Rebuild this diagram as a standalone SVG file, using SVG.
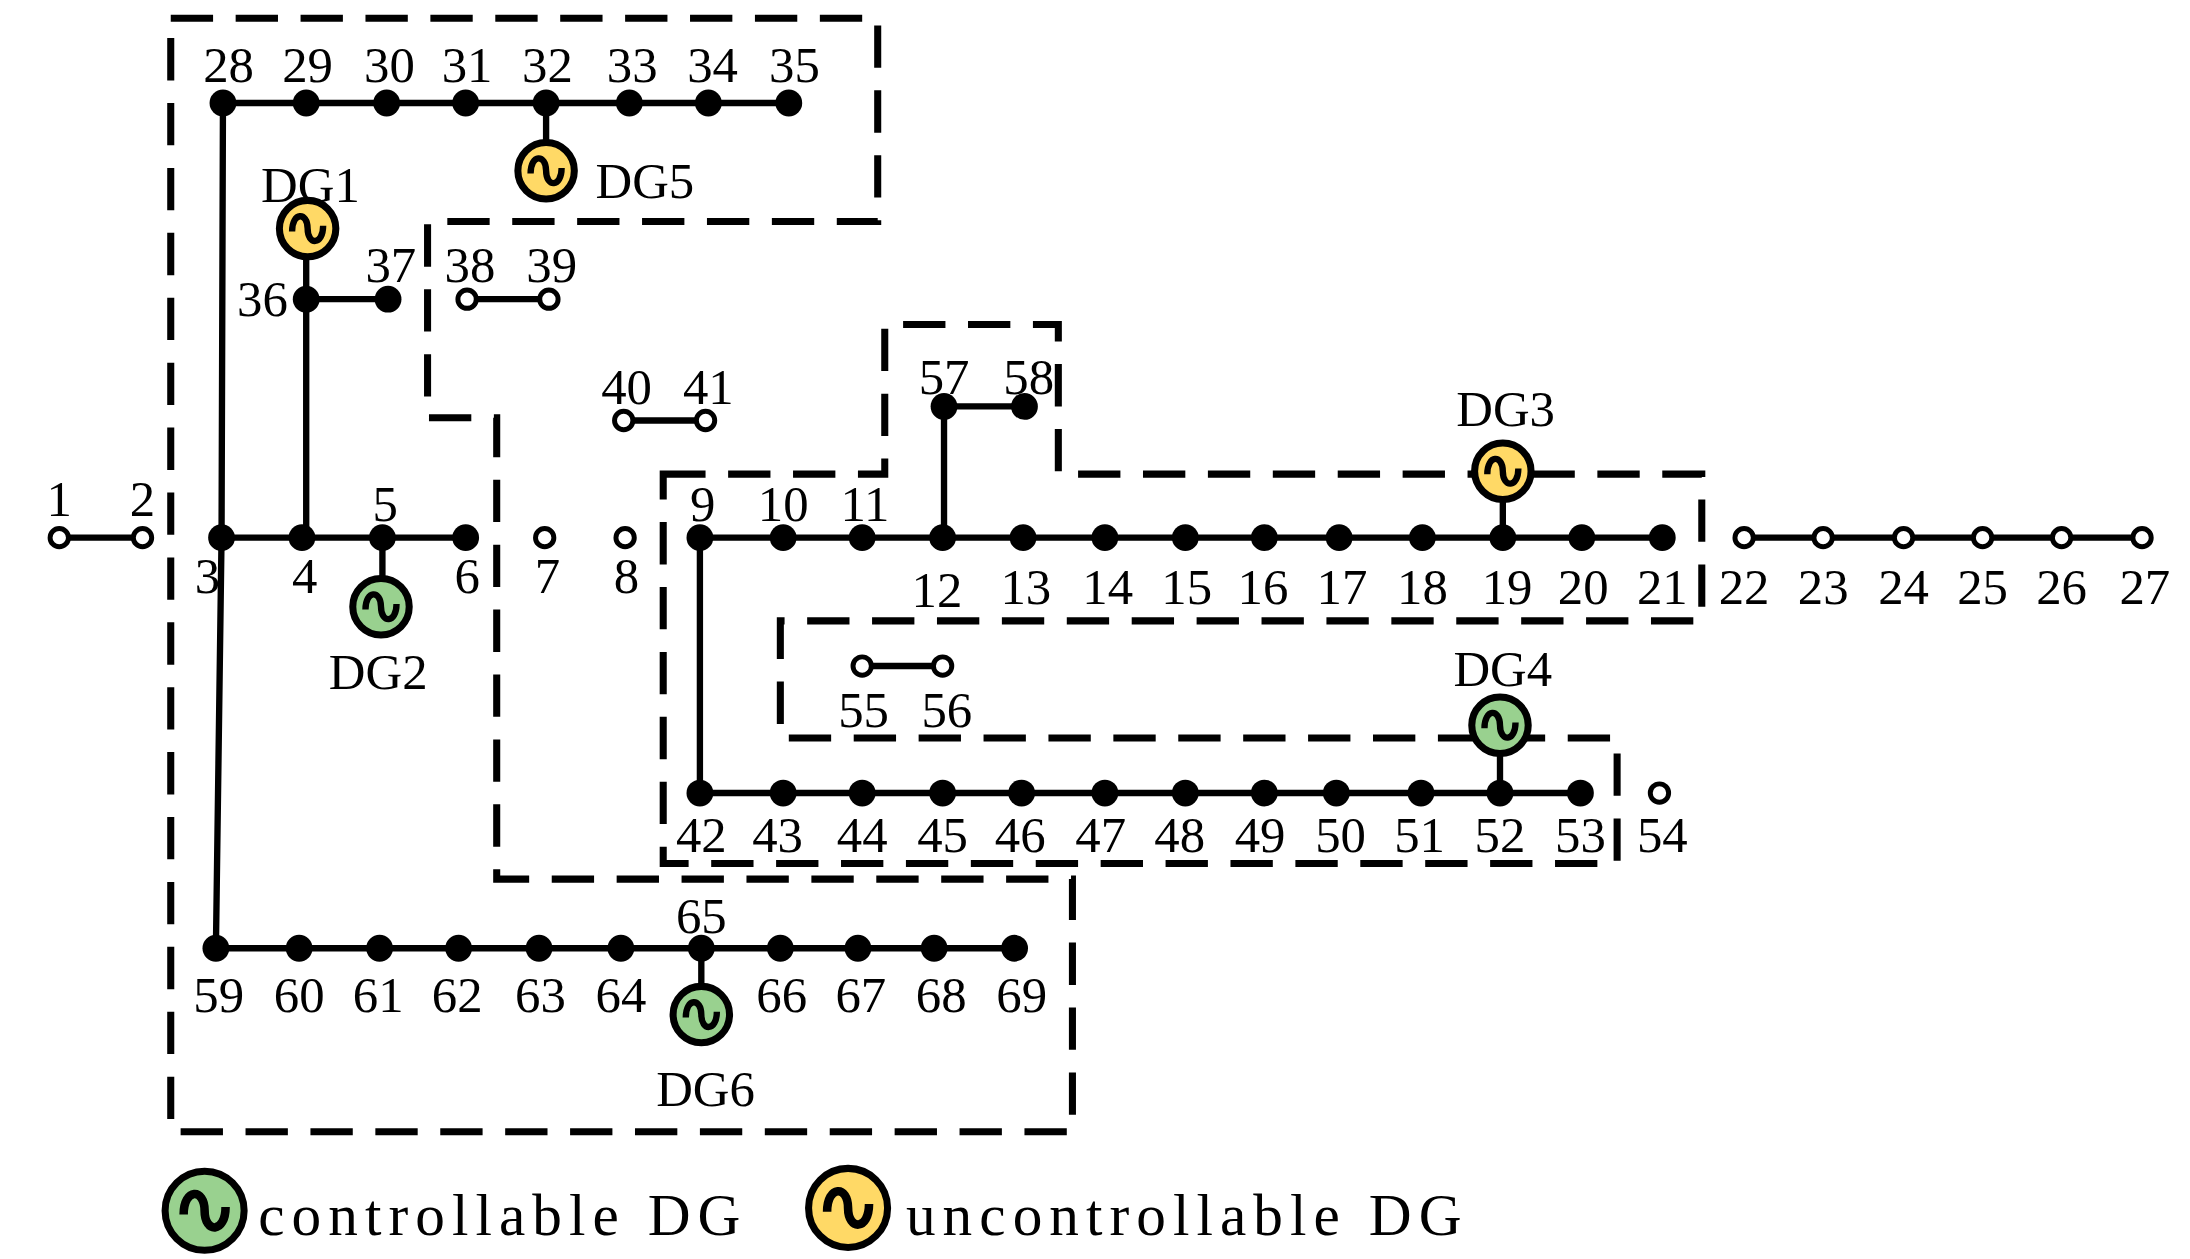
<svg xmlns="http://www.w3.org/2000/svg" width="2190" height="1259" viewBox="0 0 2190 1259">
<defs>
<style>
.ln{stroke:#000;stroke-width:4.5;fill:none}
.box{stroke:#000;stroke-width:5;fill:none;stroke-dasharray:30 16}
.f{fill:#000}
.o{fill:#fff;stroke:#000;stroke-width:3.5}
text{font-family:"Liberation Serif","Times New Roman",serif;font-size:36px;fill:#000;text-anchor:middle}
.lg{font-size:42px;text-anchor:start;letter-spacing:5px}
.dg circle{stroke:#000;stroke-width:5}
.g{fill:#99d18f}.y{fill:#ffd966}
.sw{stroke:#000;stroke-width:4.5;fill:none}
</style>
<g id="sym"><path class="sw" d="M-11,2 C-11,-12 0,-12 0,0 C0,12 11,12 11,-2"/></g>
</defs>
<rect width="2190" height="1259" fill="#fff"/>
<g transform="scale(1.4111)">
<g id="boxes">
<path class="box" d="M121,13 H622 V157 H303 V296 H352 V623 H760 V802 H121 Z"/>
<path class="box" d="M470,336 H627 V230 H750 V336 H1206 V440 H553 V523 H1146 V612 H470 Z"/>
</g>
<g id="connectors">
<path class="ln" d="M42,381 H101 M157,381 H330 M496,381 H1178 M1236,381 H1518"/>
<path class="ln" d="M158,73 H559 M158,73 L157,381 L153,672 M153,672 H719"/>
<path class="ln" d="M217,212 H275 M217,162 V381 M331,212 H389 M442,298 H500"/>
<path class="ln" d="M669,288 H726 M669,288 V381 M387,73 V121 M271,381 V430 M1065,334 V381"/>
<path class="ln" d="M496,381 V562 H1120 M1063,514 V562 M611,472 H668 M497,672 V719"/>
</g>
<g id="nodes">
<g class="o"><circle cx="42" cy="381" r="6.5"/><circle cx="101" cy="381" r="6.5"/><circle cx="386" cy="381" r="6.5"/><circle cx="443" cy="381" r="6.5"/>
<circle cx="1236" cy="381" r="6.5"/><circle cx="1292" cy="381" r="6.5"/><circle cx="1349" cy="381" r="6.5"/><circle cx="1405" cy="381" r="6.5"/><circle cx="1461" cy="381" r="6.5"/><circle cx="1518" cy="381" r="6.5"/>
<circle cx="331" cy="212" r="6.5"/><circle cx="389" cy="212" r="6.5"/><circle cx="442" cy="298" r="6.5"/><circle cx="500" cy="298" r="6.5"/>
<circle cx="611" cy="472" r="6.5"/><circle cx="668" cy="472" r="6.5"/><circle cx="1176" cy="562" r="6.5"/></g>
<g class="f">
<circle cx="157" cy="381" r="9.5"/><circle cx="214" cy="381" r="9.5"/><circle cx="271" cy="381" r="9.5"/><circle cx="330" cy="381" r="9.5"/>
<circle cx="496" cy="381" r="9.5"/><circle cx="555" cy="381" r="9.5"/><circle cx="611" cy="381" r="9.5"/><circle cx="668" cy="381" r="9.5"/><circle cx="725" cy="381" r="9.5"/><circle cx="783" cy="381" r="9.5"/><circle cx="840" cy="381" r="9.5"/><circle cx="896" cy="381" r="9.5"/><circle cx="949" cy="381" r="9.5"/><circle cx="1008" cy="381" r="9.5"/><circle cx="1065" cy="381" r="9.5"/><circle cx="1121" cy="381" r="9.5"/><circle cx="1178" cy="381" r="9.5"/>
<circle cx="158" cy="73" r="9.5"/><circle cx="217" cy="73" r="9.5"/><circle cx="274" cy="73" r="9.5"/><circle cx="330" cy="73" r="9.5"/><circle cx="387" cy="73" r="9.5"/><circle cx="446" cy="73" r="9.5"/><circle cx="502" cy="73" r="9.5"/><circle cx="559" cy="73" r="9.5"/>
<circle cx="217" cy="212" r="9.5"/><circle cx="275" cy="212" r="9.5"/><circle cx="669" cy="288" r="9.5"/><circle cx="726" cy="288" r="9.5"/>
<circle cx="496" cy="562" r="9.5"/><circle cx="555" cy="562" r="9.5"/><circle cx="611" cy="562" r="9.5"/><circle cx="668" cy="562" r="9.5"/><circle cx="724" cy="562" r="9.5"/><circle cx="783" cy="562" r="9.5"/><circle cx="840" cy="562" r="9.5"/><circle cx="896" cy="562" r="9.5"/><circle cx="947" cy="562" r="9.5"/><circle cx="1007" cy="562" r="9.5"/><circle cx="1063" cy="562" r="9.5"/><circle cx="1120" cy="562" r="9.5"/>
<circle cx="153" cy="672" r="9.5"/><circle cx="212" cy="672" r="9.5"/><circle cx="269" cy="672" r="9.5"/><circle cx="325" cy="672" r="9.5"/><circle cx="382" cy="672" r="9.5"/><circle cx="440" cy="672" r="9.5"/><circle cx="497" cy="672" r="9.5"/><circle cx="553" cy="672" r="9.5"/><circle cx="608" cy="672" r="9.5"/><circle cx="662" cy="672" r="9.5"/><circle cx="719" cy="672" r="9.5"/>
</g>
</g>
<g id="dg1" class="dg"><circle class="y" cx="218" cy="162" r="20"/><use href="#sym" x="218" y="162"/></g>
<g id="dg2" class="dg"><circle class="g" cx="270" cy="430" r="20"/><use href="#sym" x="270" y="430"/></g>
<g id="dg3" class="dg"><circle class="y" cx="1065" cy="334" r="20"/><use href="#sym" x="1065" y="334"/></g>
<g id="dg4" class="dg"><circle class="g" cx="1063" cy="514" r="20"/><use href="#sym" x="1063" y="514"/></g>
<g id="dg5" class="dg"><circle class="y" cx="387" cy="121" r="20"/><use href="#sym" x="387" y="121"/></g>
<g id="dg6" class="dg"><circle class="g" cx="497" cy="719" r="20"/><use href="#sym" x="497" y="719"/></g>
<g id="labels">
<text x="42" y="366">1</text><text x="101" y="366">2</text><text x="147" y="420">3</text><text x="216" y="420">4</text><text x="273" y="369">5</text><text x="331" y="420">6</text><text x="388" y="420">7</text><text x="444" y="420">8</text>
<text x="498" y="369">9</text><text x="555" y="369">10</text><text x="613" y="369">11</text>
<text x="664" y="430">12</text><text x="727" y="428">13</text><text x="785" y="428">14</text><text x="841" y="428">15</text><text x="895" y="428">16</text><text x="951" y="428">17</text><text x="1008" y="428">18</text><text x="1068" y="428">19</text><text x="1122" y="428">20</text><text x="1178" y="428">21</text>
<text x="1236" y="428">22</text><text x="1292" y="428">23</text><text x="1349" y="428">24</text><text x="1405" y="428">25</text><text x="1461" y="428">26</text><text x="1520" y="428">27</text>
<text x="162" y="58">28</text><text x="218" y="58">29</text><text x="276" y="58">30</text><text x="331" y="58">31</text><text x="388" y="58">32</text><text x="448" y="58">33</text><text x="505" y="58">34</text><text x="563" y="58">35</text>
<text x="186" y="224">36</text><text x="277" y="200">37</text><text x="333" y="200">38</text><text x="391" y="200">39</text><text x="444" y="286">40</text><text x="502" y="286">41</text><text x="669" y="279">57</text><text x="729" y="279">58</text>
<text x="612" y="515">55</text><text x="671" y="515">56</text>
<text x="497" y="604">42</text><text x="551" y="604">43</text><text x="611" y="604">44</text><text x="668" y="604">45</text><text x="723" y="604">46</text><text x="780" y="604">47</text><text x="836" y="604">48</text><text x="893" y="604">49</text><text x="950" y="604">50</text><text x="1006" y="604">51</text><text x="1063" y="604">52</text><text x="1120" y="604">53</text><text x="1178" y="604">54</text>
<text x="497" y="661">65</text>
<text x="155" y="717">59</text><text x="212" y="717">60</text><text x="268" y="717">61</text><text x="324" y="717">62</text><text x="383" y="717">63</text><text x="440" y="717">64</text><text x="554" y="717">66</text><text x="610" y="717">67</text><text x="667" y="717">68</text><text x="724" y="717">69</text>
<text x="220" y="143">DG1</text><text x="457" y="140">DG5</text><text x="268" y="488">DG2</text><text x="1067" y="302">DG3</text><text x="1065" y="486">DG4</text><text x="500" y="784">DG6</text>
</g>
<g id="legend">
<g class="dg"><circle class="g" cx="145" cy="858" r="28"/><use href="#sym" transform="translate(145,858) scale(1.35)"/></g>
<text class="lg" x="183" y="875">controllable DG</text>
<g class="dg"><circle class="y" cx="601" cy="856" r="28"/><use href="#sym" transform="translate(601,856) scale(1.35)"/></g>
<text class="lg" x="642" y="875">uncontrollable DG</text>
</g>
</g>
</svg>
